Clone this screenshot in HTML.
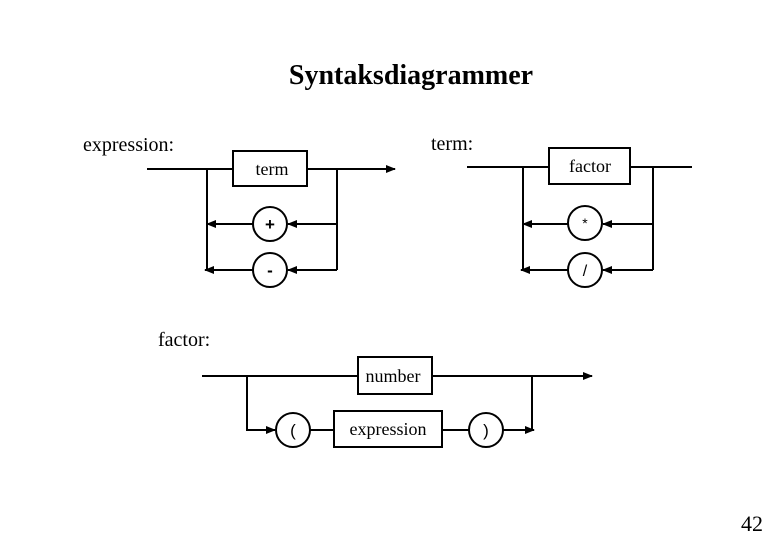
<!DOCTYPE html>
<html><head><style>body{margin:0;background:#fff}</style></head><body>
<svg width="780" height="540" xmlns="http://www.w3.org/2000/svg" font-family="Liberation Serif, serif">
<defs><marker id="a" viewBox="0 0 10 10" refX="9" refY="5" markerWidth="5" markerHeight="5" orient="auto"><path d="M0,1 L10,5 L0,9 Z" fill="#000"/></marker></defs>
<rect width="780" height="540" fill="#fff"/>
<text x="411" y="84" font-size="28" font-weight="bold" text-anchor="middle">Syntaksdiagrammer</text>
<text x="83" y="151" font-size="20">expression:</text>
<text x="431" y="150" font-size="20">term:</text>
<text x="158" y="346" font-size="20">factor:</text>
<text x="741" y="531" font-size="22">42</text>
<g stroke="#000" stroke-width="2" fill="none">
<line x1="147" y1="169" x2="233" y2="169"/>
<rect x="233" y="151" width="74" height="35" fill="#fff"/>
<line x1="307" y1="169" x2="395" y2="169" marker-end="url(#a)"/>
<polyline points="207,169 207,270"/>
<polyline points="337,169 337,270"/>
<circle cx="270" cy="224" r="17"/>
<circle cx="270" cy="270" r="17"/>
<line x1="337" y1="224" x2="288" y2="224" marker-end="url(#a)"/>
<line x1="253" y1="224" x2="207" y2="224" marker-end="url(#a)"/>
<line x1="337" y1="270" x2="288" y2="270" marker-end="url(#a)"/>
<line x1="253" y1="270" x2="205" y2="270" marker-end="url(#a)"/>
<line x1="467" y1="167" x2="549" y2="167"/>
<rect x="549" y="148" width="81" height="36" fill="#fff"/>
<line x1="630" y1="167" x2="692" y2="167"/>
<polyline points="523,167 523,270"/>
<polyline points="653,167 653,270"/>
<circle cx="585" cy="223" r="17"/>
<circle cx="585" cy="270" r="17"/>
<line x1="653" y1="224" x2="603" y2="224" marker-end="url(#a)"/>
<line x1="568" y1="224" x2="523" y2="224" marker-end="url(#a)"/>
<line x1="653" y1="270" x2="603" y2="270" marker-end="url(#a)"/>
<line x1="568" y1="270" x2="521" y2="270" marker-end="url(#a)"/>
<line x1="202" y1="376" x2="358" y2="376"/>
<rect x="358" y="357" width="74" height="37" fill="#fff"/>
<line x1="432" y1="376" x2="592" y2="376" marker-end="url(#a)"/>
<polyline points="247,376 247,430 275,430" marker-end="url(#a)"/>
<circle cx="293" cy="430" r="17"/>
<line x1="310" y1="430" x2="334" y2="430"/>
<rect x="334" y="411" width="108" height="36" fill="#fff"/>
<line x1="442" y1="430" x2="469" y2="430"/>
<circle cx="486" cy="430" r="17"/>
<line x1="503" y1="430" x2="534" y2="430" marker-end="url(#a)"/>
<line x1="532" y1="376" x2="532" y2="430"/>
</g>
<g font-size="18" text-anchor="middle">
<text x="272" y="175">term</text>
<text x="590" y="172">factor</text>
<text x="393" y="382">number</text>
<text x="388" y="435">expression</text>
<text x="270" y="230" font-weight="bold" font-family="Liberation Sans, sans-serif" font-size="17">+</text>
<text x="270" y="276" font-weight="bold" font-family="Liberation Sans, sans-serif" font-size="17">-</text>
<text x="585" y="228" font-family="Liberation Sans, sans-serif" font-size="14">*</text>
<text x="585" y="276" font-family="Liberation Sans, sans-serif" font-size="16">/</text>
<text x="293" y="436" font-family="Liberation Sans, sans-serif" font-size="17">(</text>
<text x="486" y="436" font-family="Liberation Sans, sans-serif" font-size="17">)</text>
</g>
</svg>
</body></html>
